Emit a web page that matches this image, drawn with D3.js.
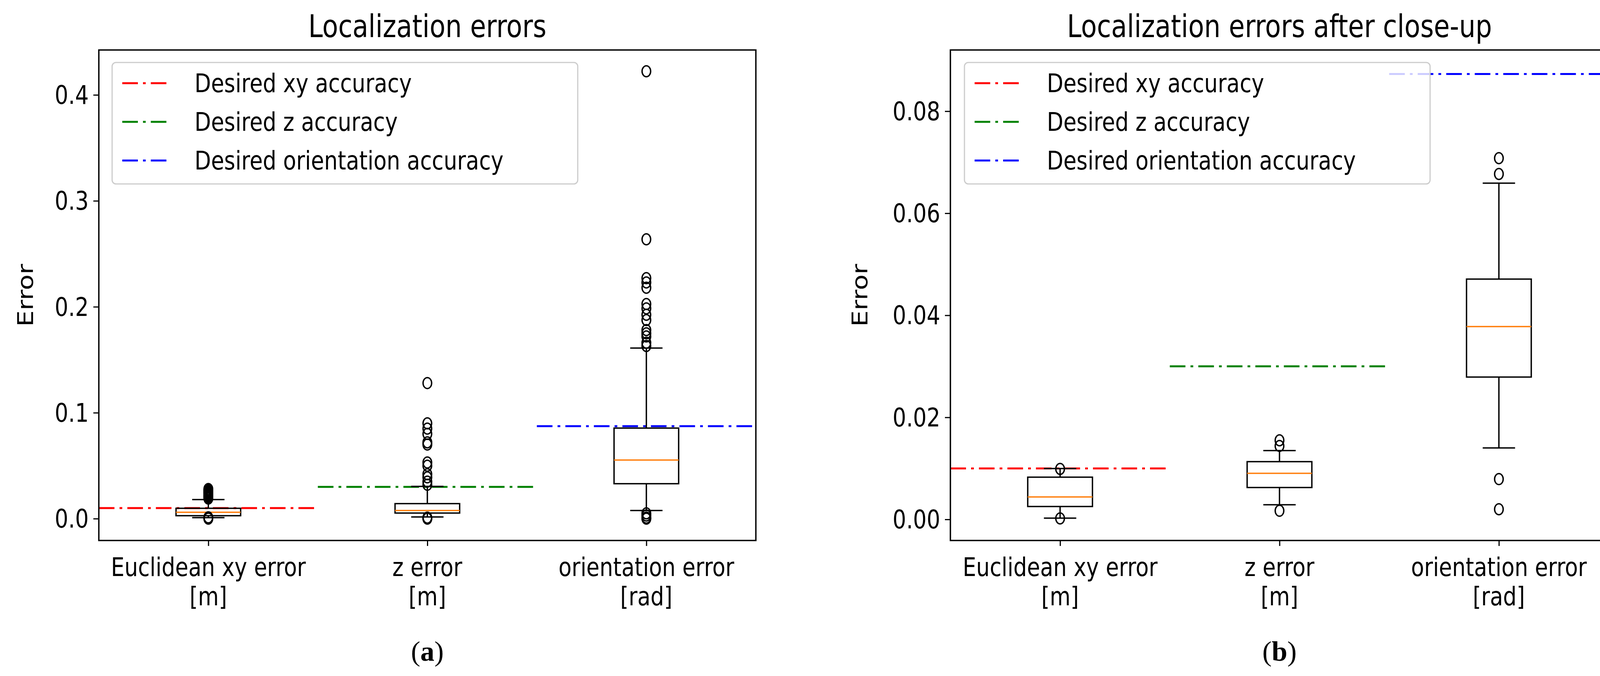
<!DOCTYPE html>
<html><head><meta charset="utf-8">
<script src="https://cdn.jsdelivr.net/npm/d3@7"></script>
<style>body{margin:0;background:#fff}svg{display:block}</style></head>
<body><svg id="c" width="4171" height="1731"></svg>
<script>
const categories = ["Euclidean xy error|[m]", "z error|[m]", "orientation error|[rad]"];
const thresholds = [0.01, 0.03, 0.0873];
const thresholdColors = ["#ff0000", "#008000", "#0000ff"];
const legendLabels = ["Desired xy accuracy", "Desired z accuracy", "Desired orientation accuracy"];
// stats: [whiskerLow, q1, median, q3, whiskerHigh]
const statsA = [[0.001,0.0028,0.006,0.0098,0.018],[0.0016,0.0053,0.0077,0.0142,0.0305],[0.0077,0.033,0.0553,0.0855,0.161]];
const outliersA = [
  [0.019,0.020,0.021,0.022,0.023,0.024,0.025,0.026,0.027,0.028,0.0,0.0005,0.0012],
  [0.128,0.09,0.085,0.08,0.072,0.07,0.053,0.05,0.042,0.039,0.035,0.032,0.0,0.0005,0.001],
  [0.4223,0.2637,0.227,0.223,0.218,0.2026,0.1985,0.1925,0.1875,0.178,0.175,0.172,0.166,0.163,0.005,0.003,0.001,0.0]];
const statsB = [[0.00025,0.00253,0.0044,0.00828,0.00997],[0.00287,0.00625,0.00904,0.01132,0.0135],[0.014,0.0279,0.0378,0.0471,0.0659]];
const outliersB = [[0.0099,0.0002],[0.0155,0.0144,0.0017],[0.0708,0.0677,0.0079,0.002]];
const ticksA = [0.0,0.1,0.2,0.3,0.4];
const ticksB = [0.00,0.02,0.04,0.06,0.08];

const svg = d3.select("#c");
const FONT = "DejaVu Sans";
const SX = 0.83;

function T(g, x, y, text, size, anchor, extra){
  const t = g.append("text").attr("transform",`translate(${x},${y}) scale(${SX},1)${extra||""}`)
    .attr("text-anchor",anchor||"middle").attr("font-family",FONT).attr("font-size",size).attr("fill","#000").text(text);
  return t;
}

function panel(o){
  const g = svg.append("g");
  const x = d3.scaleLinear().domain([0.5,3.5]).range([o.x0,o.x1]);
  const y = d3.scaleLinear().domain(o.ydom).range([o.y1,o.y0]);
  thresholds.forEach((t,i)=>{
    g.append("line").attr("x1",x(i+0.5)).attr("x2",x(i+1.5)).attr("y1",y(t)).attr("y2",y(t))
      .attr("stroke",thresholdColors[i]).attr("stroke-width",5).attr("stroke-dasharray","40 13 7 13");
  });
  const bw = 0.295;
  o.stats.forEach((s,i)=>{
    const c = i+1, xl = x(c-bw/2), xr = x(c+bw/2), cl = x(c-bw/4), cr = x(c+bw/4);
    g.append("line").attr("x1",x(c)).attr("x2",x(c)).attr("y1",y(s[0])).attr("y2",y(s[1])).attr("stroke","#000").attr("stroke-width",3.5);
    g.append("line").attr("x1",x(c)).attr("x2",x(c)).attr("y1",y(s[3])).attr("y2",y(s[4])).attr("stroke","#000").attr("stroke-width",3.5);
    [s[0],s[4]].forEach(v=>g.append("line").attr("x1",cl).attr("x2",cr).attr("y1",y(v)).attr("y2",y(v)).attr("stroke","#000").attr("stroke-width",3.5));
    g.append("rect").attr("x",xl).attr("width",xr-xl).attr("y",y(s[3])).attr("height",y(s[1])-y(s[3])).attr("fill","none").attr("stroke","#000").attr("stroke-width",3.5);
    g.append("line").attr("x1",xl).attr("x2",xr).attr("y1",y(s[2])).attr("y2",y(s[2])).attr("stroke","#ff7f0e").attr("stroke-width",3.5);
    o.out[i].forEach(v=>g.append("ellipse").attr("cx",x(c)).attr("cy",y(v)).attr("rx",11).attr("ry",14).attr("fill","none").attr("stroke","#000").attr("stroke-width",3.5));
  });
  g.append("rect").attr("x",o.x0).attr("y",o.y0).attr("width",o.x1-o.x0).attr("height",o.y1-o.y0).attr("fill","none").attr("stroke","#000").attr("stroke-width",3.5);
  const ya = g.append("g").attr("transform",`translate(${o.x0},0)`).call(d3.axisLeft(y).tickValues(o.ticks).tickFormat("").tickSize(14));
  ya.select(".domain").remove();
  ya.selectAll("line").attr("stroke-width",3);
  o.ticks.forEach(v=>T(g, o.x0-26, y(v)+23, o.fmt(v), 66, "end"));
  const xa = g.append("g").attr("transform",`translate(0,${o.y1})`).call(d3.axisBottom(x).tickValues([1,2,3]).tickFormat("").tickSize(14));
  xa.select(".domain").remove();
  xa.selectAll("line").attr("stroke-width",3);
  categories.forEach((c,i)=>{
    const [l1,l2] = c.split("|");
    T(g, x(i+1), 1475, l1, 66);
    T(g, x(i+1), 1550, l2, 66);
  });
  g.append("text").attr("transform",`translate(${o.ylx+22},${(o.y0+o.y1)/2}) rotate(-90) scale(1,${SX})`).attr("text-anchor","middle")
    .attr("font-family",FONT).attr("font-size",66).text("Error");
  T(g, (o.x0+o.x1)/2, 95, o.title, 80);
  g.append("text").attr("x",(o.x0+o.x1)/2).attr("y",1692).attr("text-anchor","middle").attr("font-family","Liberation Serif").attr("font-size",72)
    .html(`(<tspan font-weight="bold">${o.sub}</tspan>)`);
  const lg = g.append("g");
  lg.append("rect").attr("x",o.lx).attr("y",160).attr("width",1192).attr("height",311).attr("rx",10)
    .attr("fill","#fff").attr("fill-opacity",0.8).attr("stroke","#cccccc").attr("stroke-width",3);
  legendLabels.forEach((t,i)=>{
    const yy = 213 + i*99;
    lg.append("line").attr("x1",o.lx+26).attr("x2",o.lx+147).attr("y1",yy).attr("y2",yy).attr("stroke",thresholdColors[i]).attr("stroke-width",5).attr("stroke-dasharray","40 13 7 13");
    T(lg, o.lx+211, yy+23, t, 66, "start");
  });
}
panel({x0:253,x1:1935,y0:128,y1:1384,ydom:[-0.0206,0.4424],stats:statsA,out:outliersA,ticks:ticksA,fmt:d3.format(".1f"),ylx:62,title:"Localization errors",sub:"a",lx:287});
panel({x0:2433,x1:4118,y0:128,y1:1384,ydom:[-0.00413,0.0920],stats:statsB,out:outliersB,ticks:ticksB,fmt:d3.format(".2f"),ylx:2198,title:"Localization errors after close-up",sub:"b",lx:2469});
</script></body></html>
